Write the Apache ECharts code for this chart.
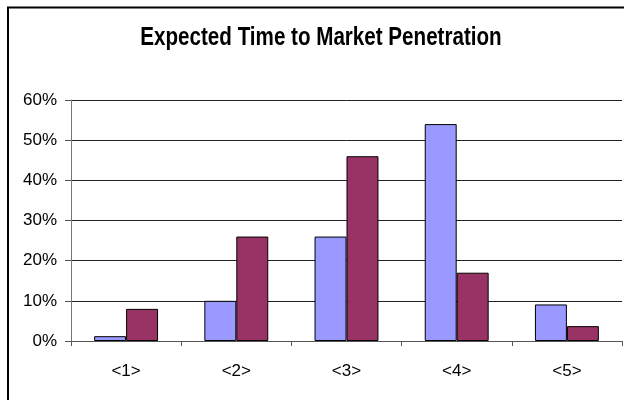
<!DOCTYPE html>
<html>
<head>
<meta charset="utf-8">
<script src="https://cdn.jsdelivr.net/npm/echarts@6/dist/echarts.min.js"></script>
<style>
html,body{margin:0;padding:0;background:#fff;}
#c{width:624px;height:400px;}
</style>
</head>
<body>
<div id="c"></div>
<script>
var chartTitle = 'Expected Time to Market Penetration';
var categories = ['<1>', '<2>', '<3>', '<4>', '<5>'];
var seriesA = [1.2, 10, 26, 54, 9.1];
var seriesB = [8, 26, 46, 17, 3.7];
var yTicks = [0, 10, 20, 30, 40, 50, 60];

var chart = echarts.init(document.getElementById('c'), null, {renderer: 'canvas'});
var font = 'Arial, "Liberation Sans", sans-serif';
chart.setOption({
  animation: false,
  backgroundColor: '#fff',
  graphic: [{
    type: 'rect',
    shape: {x: 8, y: 7.5, width: 700, height: 500},
    style: {fill: 'none', stroke: '#000', lineWidth: 2},
    silent: true,
    z: 100
  }, {
    type: 'text',
    x: 321,
    y: 38.5,
    scaleX: 0.824,
    silent: true,
    style: {
      text: chartTitle,
      fontFamily: font,
      fontSize: 25,
      fontWeight: 'bold',
      fill: '#000',
      textAlign: 'center',
      textVerticalAlign: 'middle'
    }
  }],
  grid: {left: 71, right: 2, top: 100, bottom: 59},
  xAxis: {
    type: 'category',
    data: categories,
    axisLine: {lineStyle: {color: '#555', width: 1}},
    axisTick: {show: true, length: 5, lineStyle: {color: '#555'}},
    axisLabel: {fontFamily: font, fontSize: 17, color: '#000', margin: 22}
  },
  yAxis: {
    type: 'value',
    min: yTicks[0],
    max: yTicks[yTicks.length - 1],
    interval: 10,
    axisLine: {show: true, lineStyle: {color: '#777', width: 1}},
    axisTick: {show: true, length: 6, lineStyle: {color: '#555'}},
    axisLabel: {fontFamily: font, fontSize: 17, color: '#000', margin: 14, formatter: '{value}%'},
    splitLine: {lineStyle: {color: '#222', width: 1}}
  },
  series: [{
    type: 'bar',
    data: seriesA,
    barGap: '0%',
    barCategoryGap: '42%',
    itemStyle: {color: '#9999FF', borderColor: '#000', borderWidth: 1}
  }, {
    type: 'bar',
    data: seriesB,
    itemStyle: {color: '#993366', borderColor: '#000', borderWidth: 1}
  }]
});
</script>
</body>
</html>
